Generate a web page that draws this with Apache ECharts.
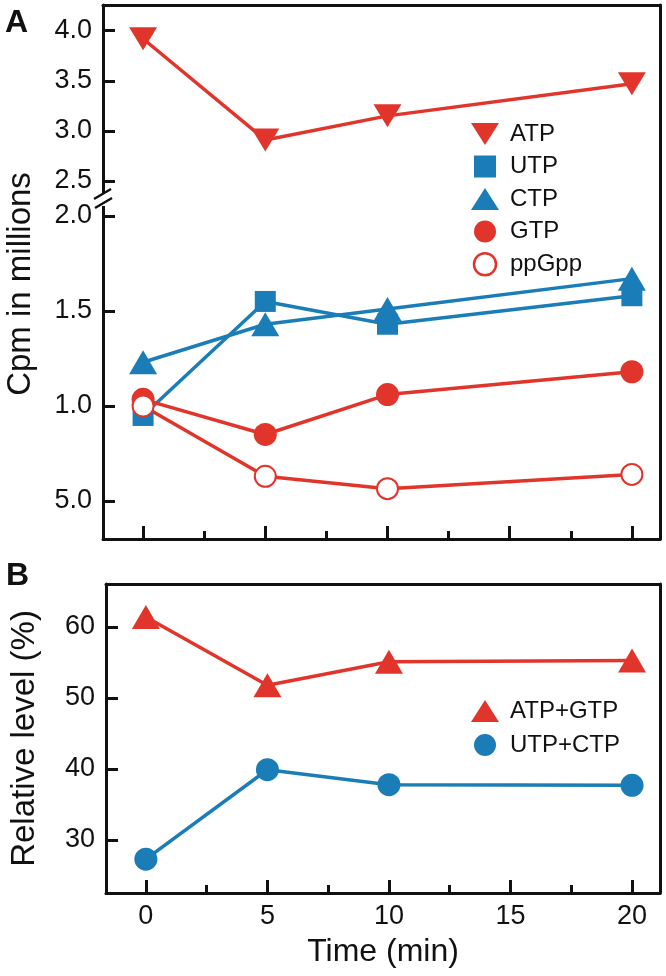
<!DOCTYPE html>
<html><head><meta charset="utf-8">
<script src="https://cdn.jsdelivr.net/npm/echarts@6/dist/echarts.min.js"></script>
<style>html,body{margin:0;padding:0;background:#fff}#c{width:666px;height:976px}</style>
</head><body><div id="c"></div>
<script>
// ---- data ----
const times = [0, 5, 10, 20];
const atp = [3.92, 2.91, 3.15, 3.47];
const utp = [0.95, 1.55, 1.43, 1.58];
const ctp = [1.23, 1.43, 1.51, 1.67];
const gtp = [1.035, 0.85, 1.06, 1.18];
const ppgpp = [1.00, 0.63, 0.565, 0.64];
const atpGtp = [61.4, 51.8, 55.1, 55.3];
const utpCtp = [27.3, 39.9, 37.8, 37.7];
const xMajorTicks = [0, 5, 10, 15, 20];
const xMajorLabels = ['0', '5', '10', '15', '20'];
const xMinorTicks = [2.5, 7.5, 12.5, 17.5];
const upperTicks = [2.5, 3.0, 3.5, 4.0];
const upperTickLabels = ['2.5', '3.0', '3.5', '4.0'];
const lowerTicks = [0.5, 1.0, 1.5, 2.0];
const lowerTickLabels = ['5.0', '1.0', '1.5', '2.0'];
const bTicks = [30, 40, 50, 60];
const bTickLabels = ['30', '40', '50', '60'];

const RED = '#e1352b', BLUE = '#1a7db7';
const FONT = '"Liberation Sans", Arial, Helvetica, sans-serif';
const pair = (ys) => times.map((t, i) => [t, ys[i]]);
const lbl = (ticks, labels) => (v) => { const i = ticks.findIndex(t => Math.abs(t - v) < 1e-9); return i >= 0 ? labels[i] : ''; };

const XMIN = -1.64, XMAX = 21.15;
const LW = 3;
const TICKFS = 27;
const lineStyleAx = { show: true, onZero: false, lineStyle: { color: '#111', width: LW } };

function frameX(grid, pos) {
  return { type: 'value', gridIndex: grid, position: pos, min: XMIN, max: XMAX,
    axisLine: lineStyleAx, axisTick: { show: false }, axisLabel: { show: false }, splitLine: { show: false } };
}
function majorX(grid, showLabels, name) {
  return { type: 'value', gridIndex: grid, position: 'bottom', min: XMIN, max: XMAX,
    name: name || '', nameLocation: 'middle', nameGap: 43,
    nameTextStyle: { fontFamily: FONT, fontSize: 32, color: '#111' },
    axisLine: lineStyleAx,
    axisTick: { show: true, inside: true, length: 13, customValues: xMajorTicks, lineStyle: { color: '#111', width: LW } },
    axisLabel: { show: showLabels, customValues: xMajorTicks, formatter: lbl(xMajorTicks, xMajorLabels), margin: 10, fontFamily: FONT, fontSize: TICKFS, color: '#111' },
    splitLine: { show: false } };
}
function minorX(grid) {
  return { type: 'value', gridIndex: grid, position: 'bottom', min: XMIN, max: XMAX,
    axisLine: { show: false, onZero: false },
    axisTick: { show: true, inside: true, length: 8, customValues: xMinorTicks, lineStyle: { color: '#111', width: LW } },
    axisLabel: { show: false }, splitLine: { show: false } };
}
function leftY(grid, min, max, ticks, labels, name, gap) {
  return { type: 'value', gridIndex: grid, position: 'left', min: min, max: max,
    name: name || '', nameLocation: 'middle', nameGap: gap || 0,
    nameTextStyle: { fontFamily: FONT, fontSize: 33, color: '#111' },
    axisLine: lineStyleAx,
    axisTick: { show: true, inside: true, length: 12, customValues: ticks, lineStyle: { color: '#111', width: LW } },
    axisLabel: { show: true, customValues: ticks, formatter: lbl(ticks, labels), margin: 11, fontFamily: FONT, fontSize: TICKFS, color: '#111' },
    splitLine: { show: false } };
}
function rightY(grid, min, max) {
  return { type: 'value', gridIndex: grid, position: 'right', min: min, max: max,
    axisLine: lineStyleAx, axisTick: { show: false }, axisLabel: { show: false }, splitLine: { show: false } };
}
function ser(name, data, xi, yi, color, symbol, size, extra) {
  return Object.assign({ name: name, type: 'line', xAxisIndex: xi, yAxisIndex: yi, data: pair(data),
    symbol: symbol, symbolSize: size, showSymbol: true,
    lineStyle: { color: color, width: 3.5 }, itemStyle: { color: color, opacity: 1 },
    emphasis: { disabled: true }, animation: false, z: 3 }, extra || {});
}

const chart = echarts.init(document.getElementById('c'), null, { renderer: 'canvas' });
chart.setOption({
  backgroundColor: '#fff',
  animation: false,
  grid: [
    { left: 103, right: 6, top: 5, height: 194 },
    { left: 103, right: 6, top: 199, height: 340 },
    { left: 103, right: 6, top: 584, height: 309 }
  ],
  xAxis: [frameX(0, 'top'), majorX(1, false), minorX(1), frameX(2, 'top'), majorX(2, true, 'Time (min)'), minorX(2)],
  yAxis: [
    leftY(0, 2.32, 4.257, upperTicks, upperTickLabels),
    rightY(0, 2.32, 4.257),
    leftY(1, 0.3, 2.089, lowerTicks, lowerTickLabels),
    rightY(1, 0.3, 2.089),
    leftY(2, 22.54, 66.06, bTicks, bTickLabels, 'Relative level (%)', 65),
    rightY(2, 22.54, 66.06)
  ],
  legend: [
    { orient: 'vertical', left: 466, top: 117, itemWidth: 28, itemHeight: 22, itemGap: 8.5,
      textStyle: { fontFamily: FONT, fontSize: 24, color: '#111', padding: [0, 0, 0, 6] },
      selectedMode: false,
      data: [
        { name: 'ATP', icon: 'path://M0,0L28,0L14,22Z' },
        { name: 'UTP', icon: 'path://M0,0L20,0L20,20L0,20Z' },
        { name: 'CTP', icon: 'triangle' },
        { name: 'GTP', icon: 'circle' },
        { name: 'ppGpp', icon: 'circle', itemStyle: { color: '#fff', borderColor: RED, borderWidth: 2.5 } }
      ] },
    { orient: 'vertical', left: 466, top: 694, itemWidth: 28, itemHeight: 22, itemGap: 10,
      textStyle: { fontFamily: FONT, fontSize: 24, color: '#111', padding: [0, 0, 0, 6] },
      selectedMode: false,
      data: [ { name: 'ATP+GTP', icon: 'triangle' }, { name: 'UTP+CTP', icon: 'circle' } ] }
  ],
  series: [
    ser('ATP', atp, 0, 0, RED, 'triangle', [28, 23], { symbolRotate: 180 }),
    ser('UTP', utp, 1, 2, BLUE, 'rect', [21, 21]),
    ser('CTP', ctp, 1, 2, BLUE, 'triangle', [28, 24]),
    ser('GTP', gtp, 1, 2, RED, 'circle', 23),
    ser('ppGpp', ppgpp, 1, 2, RED, 'emptyCircle', 21, { itemStyle: { color: RED, borderColor: RED, borderWidth: 2.5 } }),
    ser('ATP+GTP', atpGtp, 4, 4, RED, 'triangle', [28, 24]),
    ser('UTP+CTP', utpCtp, 4, 4, BLUE, 'circle', 23)
  ],
  graphic: [
    { type: 'text', left: 5, top: 7, z: 100, style: { text: 'A', font: 'bold 32px ' + FONT, fill: '#111' } },
    { type: 'text', left: 6, top: 560, z: 100, style: { text: 'B', font: 'bold 32px ' + FONT, fill: '#111' } },
    { type: 'text', x: 21, y: 284, rotation: Math.PI / 2, z: 100,
      style: { text: 'Cpm in millions', font: '33px ' + FONT, fill: '#111', align: 'center', verticalAlign: 'middle' } },
    { type: 'rect', z: 100, shape: { x: 98, y: 193, width: 10, height: 13 }, style: { fill: '#fff' } },
    { type: 'line', z: 101, shape: { x1: 94, y1: 199, x2: 111, y2: 189 }, style: { stroke: '#111', lineWidth: 2.5 } },
    { type: 'line', z: 101, shape: { x1: 95, y1: 208, x2: 112, y2: 198 }, style: { stroke: '#111', lineWidth: 2.5 } }
  ]
});
</script>
</body></html>
